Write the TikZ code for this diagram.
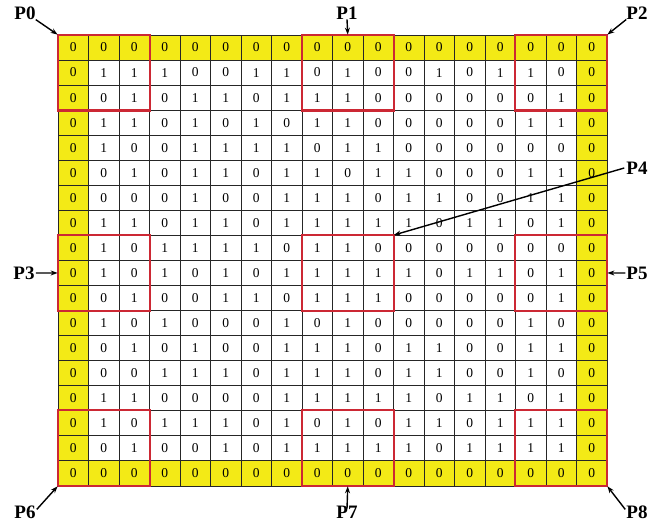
\documentclass[tikz,border=0pt]{standalone}
\usepackage{fontspec}
\setmainfont{Liberation Serif}[BoldFont={Liberation Serif Bold}]
\usetikzlibrary{arrows.meta}
\definecolor{cellyellow}{RGB}{243,234,22}
\definecolor{boxred}{RGB}{204,40,52}
\begin{document}
\begin{tikzpicture}[x=1pt,y=-1pt,
  cellbase/.style={draw=black!85,line width=0.75pt,minimum width=30.5pt,minimum height=25.05pt,inner sep=0pt,font=\fontsize{13.5}{13.5}\selectfont},
  edgecell/.style={cellbase,fill=cellyellow},
  innercell/.style={cellbase,fill=white},
  redbox/.style={draw=boxred,line width=2.2pt},
  plabel/.style={font=\fontsize{19}{19}\selectfont\bfseries,inner sep=0pt},
  parrow/.style={draw=black,line width=1.4pt,-{Stealth[length=7pt,width=5pt]}}]
\useasboundingbox (0,0) rectangle (663,524);
\foreach \row [count=\r] in {
 {0,0,0,0,0,0,0,0,0,0,0,0,0,0,0,0,0,0},
 {0,1,1,1,0,0,1,1,0,1,0,0,1,0,1,1,0,0},
 {0,0,1,0,1,1,0,1,1,1,0,0,0,0,0,0,1,0},
 {0,1,1,0,1,0,1,0,1,1,0,0,0,0,0,1,1,0},
 {0,1,0,0,1,1,1,1,0,1,1,0,0,0,0,0,0,0},
 {0,0,1,0,1,1,0,1,1,0,1,1,0,0,0,1,1,0},
 {0,0,0,0,1,0,0,1,1,1,0,1,1,0,0,1,1,0},
 {0,1,1,0,1,1,0,1,1,1,1,1,0,1,1,0,1,0},
 {0,1,0,1,1,1,1,0,1,1,0,0,0,0,0,0,0,0},
 {0,1,0,1,0,1,0,1,1,1,1,1,0,1,1,0,1,0},
 {0,0,1,0,0,1,1,0,1,1,1,0,0,0,0,0,1,0},
 {0,1,0,1,0,0,0,1,0,1,0,0,0,0,0,1,0,0},
 {0,0,1,0,1,0,0,1,1,1,0,1,1,0,0,1,1,0},
 {0,0,0,1,1,1,0,1,1,1,0,1,1,0,0,1,0,0},
 {0,1,1,0,0,0,0,1,1,1,1,1,0,1,1,0,1,0},
 {0,1,0,1,1,1,0,1,0,1,0,1,1,0,1,1,1,0},
 {0,0,1,0,0,1,0,1,1,1,1,1,0,1,1,1,1,0},
 {0,0,0,0,0,0,0,0,0,0,0,0,0,0,0,0,0,0}}{
  \foreach \v [count=\c] in \row {
    \pgfmathtruncatemacro\isedge{(\r==1)||(\r==18)||(\c==1)||(\c==18)}
    \ifnum\isedge=1
      \node[edgecell] (c-\r-\c) at ({58+(\c-0.5)*30.5},{35+(\r-0.5)*25.05}) {\v};
    \else
      \node[innercell] (c-\r-\c) at ({58+(\c-0.5)*30.5},{35+(\r-0.5)*25.05}) {\v};
    \fi
  }
}
% red 3x3 boxes
\foreach \ra/\rb in {1/3,9/11,16/18}{
  \foreach \ca/\cb in {1/3,9/11,16/18}{
    \draw[redbox] (c-\ra-\ca.north west) rectangle (c-\rb-\cb.south east);
  }
}
% labels
\node[plabel] (P0) at (25,13) {P0};
\node[plabel] (P1) at (347,13) {P1};
\node[plabel] (P2) at (637,13) {P2};
\node[plabel] (P3) at (24,273) {P3};
\node[plabel] (P4) at (637,168) {P4};
\node[plabel] (P5) at (637,273) {P5};
\node[plabel] (P6) at (25,512) {P6};
\node[plabel] (P7) at (347,512) {P7};
\node[plabel] (P8) at (637,512) {P8};
% arrows
\draw[parrow] (P0.south east) -- (c-1-1.north west);
\draw[parrow] (P1.south) -- (c-1-10.north);
\draw[parrow] (P2.south west) -- (c-1-18.north east);
\draw[parrow] ([xshift=1pt]P3.east) -- (c-10-1.west);
\draw[parrow] ([xshift=-2pt]P4.west) -- (c-9-11.north east);
\draw[parrow] ([xshift=-1pt]P5.west) -- (c-10-18.east);
\draw[parrow] ([shift={(1pt,-4pt)}]P6.north east) -- (c-18-1.south west);
\draw[parrow] ([yshift=-3pt]P7.north) -- (c-18-10.south);
\draw[parrow] ([shift={(-1pt,-4pt)}]P8.north west) -- (c-18-18.south east);
\end{tikzpicture}
\end{document}
